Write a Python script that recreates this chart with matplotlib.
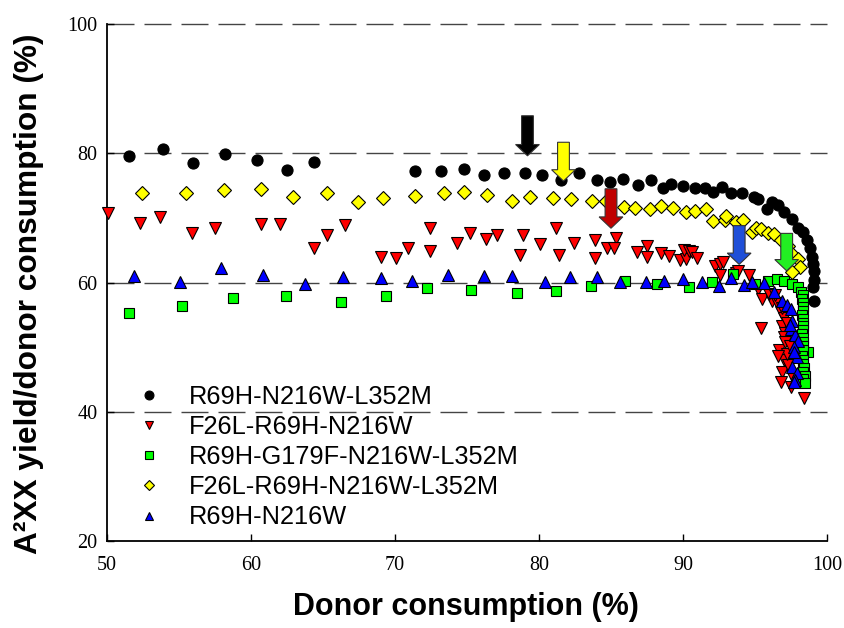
import matplotlib
matplotlib.use('Agg')
import matplotlib.pyplot as plt
import matplotlib.patches as mpatches

# ── Data: donor consumption (%) vs A2XX yield/donor consumption (%) ──────────
bk_x = [51.5, 53.9, 56.0, 58.2, 60.4, 62.5, 64.4, 71.4, 73.2, 74.8, 76.2, 77.6,
        79.0, 80.2, 81.5, 82.8, 84.0, 84.9, 85.8, 86.85, 87.8, 88.6, 89.2, 90.0,
        90.8, 91.5, 92.1, 92.7, 93.3, 94.1, 94.9, 95.2, 95.8, 96.2, 96.6, 97.0,
        97.6, 98.0, 98.3, 98.6, 98.8, 98.95, 99.05, 99.1, 99.1, 99.05, 99.07]
bk_y = [79.6, 80.7, 78.5, 79.9, 79.0, 77.4, 78.7, 77.3, 77.25, 77.5, 76.6, 76.9,
        76.9, 76.7, 75.9, 76.9, 75.9, 75.5, 76.0, 75.1, 75.9, 74.6, 75.3, 75.0,
        74.6, 74.7, 74.05, 74.8, 73.9, 73.85, 73.3, 72.9, 71.4, 72.4, 72.05, 70.9,
        69.8, 68.5, 67.8, 66.6, 65.4, 63.9, 62.8, 61.85, 60.4, 59.3, 57.2]

rd_x = [50.07, 52.3, 53.7, 55.9, 57.5, 60.7, 62.0, 64.4, 65.3, 66.5, 69.0, 70.1,
        70.9, 72.45, 72.4, 74.3, 75.2, 76.3, 77.1, 78.9, 78.7, 80.1, 81.2, 81.4,
        82.45, 83.9, 85.35, 84.7, 85.2, 83.9, 86.8, 87.5, 87.5, 88.5, 89.0, 89.8,
        90.2, 90.1, 90.4, 90.6, 91.0, 92.2, 92.6, 92.8, 92.6, 93.7, 93.8, 94.6,
        95.2, 95.5, 96.2, 95.4, 96.0, 96.5, 96.8, 97.0, 96.9, 97.1, 96.7, 97.0,
        97.1, 97.0, 96.85, 96.8, 97.5, 97.3, 97.6, 98.4, 97.2, 96.6, 96.4, 96.9,
        97.2, 97.4]
rd_y = [70.7, 69.2, 70.2, 67.6, 68.4, 69.0, 69.0, 65.3, 67.4, 68.85, 63.9, 63.75,
        65.35, 68.5, 64.8, 66.1, 67.7, 66.8, 67.4, 67.4, 64.3, 66.0, 68.4, 64.3,
        66.1, 66.6, 66.85, 65.3, 65.35, 63.75, 64.7, 65.6, 64.0, 64.5, 64.05, 63.5,
        63.65, 65.1, 64.9, 64.7, 63.8, 62.5, 62.8, 63.1, 61.2, 61.4, 61.85, 61.2,
        59.0, 57.5, 57.2, 52.9, 58.2, 56.8, 55.5, 54.5, 53.2, 52.2, 49.5, 51.55,
        50.8, 48.0, 46.15, 44.6, 43.85, 47.2, 45.5, 42.2, 49.0, 48.6, 58.0, 56.0,
        53.8, 50.2]

gr_x = [51.5, 55.2, 58.75, 62.4, 66.25, 69.4, 72.2, 75.3, 78.5, 81.2, 83.6, 86.0,
        88.2, 90.4, 92.0, 93.45, 95.0, 95.9, 96.5, 97.0, 97.6, 97.96, 98.2, 98.3,
        98.25, 98.3, 98.35, 98.3, 98.25, 98.3, 98.35, 98.3, 98.3, 98.25, 98.3,
        98.35, 98.3, 98.65, 98.3, 98.25, 98.3, 98.35, 98.4, 98.3, 98.5, 98.3,
        98.45]
gr_y = [55.3, 56.4, 57.6, 57.9, 57.0, 57.9, 59.2, 58.9, 58.3, 58.65, 59.5, 60.25,
        59.8, 59.3, 60.15, 61.35, 59.8, 60.2, 60.6, 60.3, 59.8, 59.3, 58.6, 58.0,
        57.4, 56.8, 56.2, 55.6, 55.0, 54.4, 53.8, 53.2, 52.6, 52.0, 51.4, 50.8,
        50.2, 49.2, 49.6, 48.6, 48.0, 47.4, 46.8, 46.2, 45.6, 45.0, 44.4]

yl_x = [52.4, 55.5, 58.1, 60.7, 62.9, 65.3, 67.4, 69.2, 71.4, 73.4, 74.8, 76.4,
        78.1, 79.4, 81.0, 82.2, 83.65, 84.65, 85.9, 86.7, 87.7, 88.5, 89.3, 90.2,
        90.8, 91.6, 92.1, 92.9, 93.0, 93.7, 94.2, 94.8, 95.1, 95.4, 95.9, 96.3,
        96.8, 97.3, 97.6, 97.96, 98.1, 97.6]
yl_y = [73.9, 73.9, 74.3, 74.4, 73.2, 73.9, 72.4, 73.1, 73.4, 73.8, 74.05, 73.6,
        72.6, 73.3, 73.1, 72.9, 72.55, 72.55, 71.7, 71.6, 71.3, 71.9, 71.5, 70.95,
        71.1, 71.4, 69.5, 69.6, 70.35, 69.4, 69.6, 67.8, 68.45, 68.3, 67.6, 67.5,
        66.5, 65.7, 64.4, 63.7, 62.4, 61.6]

bl_x = [51.85, 55.07, 57.9, 60.85, 63.75, 66.4, 69.0, 71.2, 73.7, 76.2, 78.15,
        80.4, 82.15, 84.0, 85.65, 87.4, 88.7, 90.0, 91.3, 92.5, 93.3, 94.25, 94.8,
        95.6, 96.3, 96.9, 97.2, 97.5, 97.6, 97.5, 97.8, 98.0, 97.7, 97.9, 97.6,
        97.9, 97.8, 97.7, 97.4, 97.7]
bl_y = [61.0, 60.1, 62.3, 61.2, 59.7, 60.8, 60.7, 60.3, 61.1, 61.0, 61.0, 60.15,
        60.8, 60.8, 60.15, 60.15, 60.25, 60.6, 60.05, 59.4, 60.7, 59.6, 60.15, 59.9,
        58.5, 57.1, 56.5, 55.9, 54.1, 52.85, 51.8, 51.0, 50.0, 48.5, 46.9, 46.0,
        44.9, 44.6, 53.5, 49.2]

labels = ['R69H-N216W-L352M', 'F26L-R69H-N216W', 'R69H-G179F-N216W-L352M',
          'F26L-R69H-N216W-L352M', 'R69H-N216W']

# arrows marking points of interest: x, top y, tip y
arrow_x = [79.2, 81.7, 85.0, 93.9, 97.2]
arrow_top = [85.8, 81.7, 74.5, 68.8, 67.6]
arrow_tip = [79.6, 75.7, 68.4, 62.8, 61.8]
arrow_col = ['#000000', '#ffff00', '#c00000', '#1f4fd8', '#22ee22']

# ── Canvas ───────────────────────────────────────────────────────────────────
fig = plt.figure(figsize=(8.45, 6.28), dpi=100)
ax = fig.add_axes([107 / 845, 87 / 628, 720 / 845, 517 / 628])

# dashed reference lines
px = 1 / 0.72   # dash lengths given in pixels for a 1 pt line
for gy in [40, 60, 80, 100]:
    ax.axhline(gy, color='#444444', lw=1.0, ls=(0, (27 / px, 10 / px)), zorder=1,
               clip_on=False)

mk = dict(ls='none', markeredgecolor='black', markeredgewidth=0.8, clip_on=False)
ax.plot(bk_x, bk_y, marker='o', ms=8, color='black', label=labels[0], zorder=3, **mk)
ax.plot(rd_x, rd_y, marker='v', ms=8, color='#ff0000', label=labels[1], zorder=4, **mk)
ax.plot(gr_x, gr_y, marker='s', ms=6.5, color='#00ff00', label=labels[2], zorder=5, **mk)
ax.plot(yl_x, yl_y, marker='D', ms=7, color='#ffff00', label=labels[3], zorder=6, **mk)
ax.plot(bl_x, bl_y, marker='^', ms=8, color='#0000ff', label=labels[4], zorder=7, **mk)

# block arrows (width in x units, head length in y units)
for x, yt, yb, c in zip(arrow_x, arrow_top, arrow_tip, arrow_col):
    arr = mpatches.FancyArrow(x, yt, 0, yb - yt, width=0.82, head_width=1.65,
                              head_length=1.75, length_includes_head=True,
                              facecolor=c, edgecolor='#333333', lw=0.8, zorder=8)
    ax.add_patch(arr)

ax.set_xlim(50, 100)
ax.set_ylim(20, 100)
ax.set_xticks([50, 60, 70, 80, 90, 100])
ax.set_yticks([20, 40, 60, 80, 100])
for s in ['top', 'right']:
    ax.spines[s].set_visible(False)
for s in ['left', 'bottom']:
    ax.spines[s].set_linewidth(1.3)
ax.tick_params(direction='in', length=5, width=1.0)
ax.tick_params(axis='x', pad=11)
ax.tick_params(axis='y', pad=7)
for lab in ax.get_xticklabels() + ax.get_yticklabels():
    lab.set_fontfamily('Liberation Serif')
    lab.set_fontsize(14.5)

ax.set_xlabel('Donor consumption (%)', fontsize=22, fontweight='bold',
              fontfamily='Liberation Sans')
ax.set_ylabel('A\u00b2XX yield/donor consumption (%)', fontsize=22.8,
              fontweight='bold', fontfamily='Liberation Sans')
ax.xaxis.set_label_coords(0.4986, -0.098)
ax.yaxis.set_label_coords(-0.088, 0.478)

leg = ax.legend(loc='upper left', bbox_to_anchor=(124 / 845, 1 - 385 / 628),
                bbox_transform=fig.transFigure, frameon=False, borderpad=0,
                borderaxespad=0, handletextpad=0.55, labelspacing=0.24,
                prop={'family': 'Liberation Sans', 'size': 18.3}, markerscale=0.8)

fig.savefig('out.png', dpi=100)
plt.close(fig)
